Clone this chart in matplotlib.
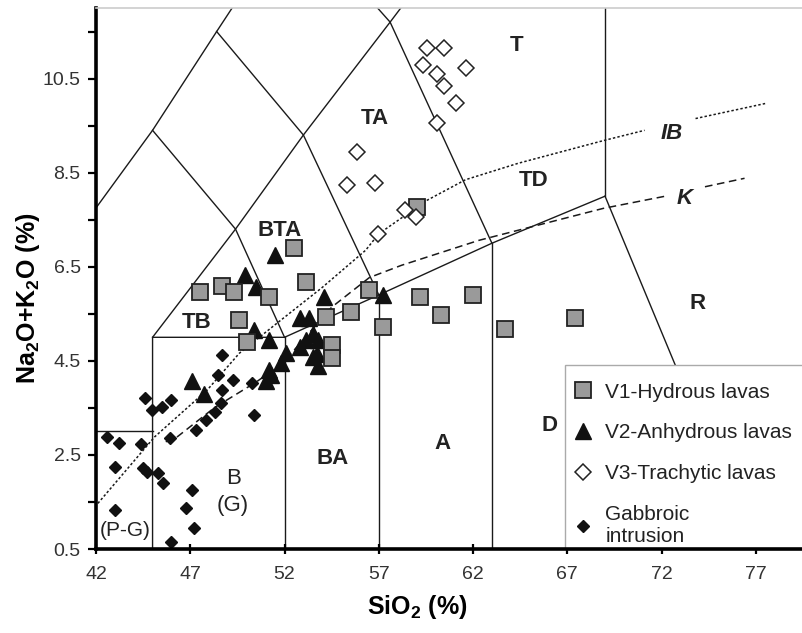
import matplotlib
matplotlib.use('Agg')
import matplotlib.pyplot as plt
from matplotlib.lines import Line2D
from matplotlib.patches import Rectangle

plt.rcParams['font.family'] = ['Liberation Sans', 'DejaVu Sans']
plt.rcParams['mathtext.default'] = 'regular'

# ---------------- data ----------------
v1_sio2 = [47.5, 48.7, 49.3, 51.2, 52.5, 53.15, 49.6, 50.0, 54.2, 55.5,
           56.5, 57.2, 54.5, 54.5, 59.0, 59.2, 60.3, 62.0, 63.7, 67.4]
v1_alk = [5.96, 6.08, 5.96, 5.85, 6.89, 6.17, 5.36, 4.9, 5.43, 5.53,
          6.0, 5.22, 4.83, 4.56, 7.78, 5.85, 5.47, 5.89, 5.17, 5.4]

v2_sio2 = [51.5, 49.9, 50.5, 54.1, 52.8, 53.3, 50.4, 51.2, 53.15, 53.5,
           53.8, 52.8, 53.5, 53.8, 52.1, 51.2, 47.1, 47.75, 51.0, 51.8,
           51.3, 57.2, 53.7]
v2_alk = [6.74, 6.32, 6.06, 5.85, 5.4, 5.4, 5.15, 4.94, 4.94, 5.08,
          4.94, 4.8, 4.58, 4.4, 4.66, 4.3, 4.07, 3.8, 4.07, 4.45,
          4.2, 5.9, 4.65]

v3_sio2 = [59.55, 60.45, 59.35, 60.1, 60.45, 61.6, 61.1, 60.1, 55.85, 55.3,
           56.8, 58.4, 58.95, 56.95]
v3_alk = [11.14, 11.16, 10.78, 10.6, 10.35, 10.73, 9.99, 9.55, 8.93, 8.23,
          8.29, 7.7, 7.55, 7.2]

gab_sio2 = [47.3, 47.85, 48.3, 48.65, 48.7, 49.25, 48.45, 48.7, 50.3, 50.4,
            44.6, 44.96, 45.5, 46.0, 45.9, 42.6, 43.2, 44.4, 43.0, 44.5,
            44.7, 45.3, 45.55, 47.1, 46.8, 47.2, 46.0, 43.0]
gab_alk = [3.03, 3.24, 3.41, 3.6, 3.88, 4.09, 4.19, 4.62, 4.02, 3.35,
           3.7, 3.45, 3.51, 3.66, 2.86, 2.88, 2.75, 2.73, 2.24, 2.22,
           2.13, 2.11, 1.9, 1.75, 1.37, 0.95, 0.65, 1.33]

# TAS field boundaries (SiO2, Na2O+K2O)
tas_lines = [
    [(41, 7.2), (45, 9.4), (48.4, 11.5), (52.5, 14)],
    [(41, 3), (45, 3)],
    [(45, 0), (45, 5), (49.4, 7.3), (53, 9.3), (57.6, 11.7), (61, 13.5)],
    [(45, 9.4), (49.4, 7.3), (52, 5)],
    [(48.4, 11.5), (53, 9.3), (57, 5.9)],
    [(52.5, 14), (57.6, 11.7), (63, 7)],
    [(45, 5), (52, 5), (57, 5.9), (63, 7), (69, 8)],
    [(52, 0), (52, 5)],
    [(57, 0), (57, 5.9)],
    [(63, 0), (63, 7)],
    [(69, 8), (69, 13)],
    [(69, 8), (77.3, 0)],
]

# Irvine & Baragar (IB) and Kuno (K) dividing lines
ib_x1 = [42.1, 45.1, 47.9, 49.6, 51.6, 54.0, 56.3, 57.0, 59.0, 59.5, 61.6, 64.4, 68.9, 71.1]
ib_y1 = [1.47, 2.88, 3.88, 4.66, 5.3, 6.06, 6.85, 7.2, 7.76, 7.9, 8.35, 8.7, 9.18, 9.4]
ib_x2 = [73.8, 77.5]
ib_y2 = [9.65, 9.97]
k_x1 = [45.7, 46.2, 48.3, 50.5, 51.9, 54.5, 56.5, 58.2, 62.3, 68.9, 72.2]
k_y1 = [2.78, 2.85, 3.51, 4.05, 4.45, 5.64, 6.27, 6.53, 7.06, 7.74, 8.0]
k_x2 = [74.3, 76.4]
k_y2 = [8.2, 8.38]

field_labels = ['T', 'TA', 'TD', 'BTA', 'TB', 'R', 'D', 'A', 'BA']
field_x = [64.33, 56.8, 65.2, 51.76, 47.36, 73.9, 66.07, 60.4, 54.57]
field_y = [11.2, 9.65, 8.33, 7.27, 5.32, 5.72, 3.13, 2.75, 2.43]

x_ticks = [42, 47, 52, 57, 62, 67, 72, 77]
y_ticks = [0.5, 2.5, 4.5, 6.5, 8.5, 10.5]
y_minor = [1.5, 3.5, 5.5, 7.5, 9.5, 11.5]

legend_labels = ['V1-Hydrous lavas', 'V2-Anhydrous lavas', 'V3-Trachytic lavas',
                 'Gabbroic\nintrusion']

# ---------------- figure ----------------
fig = plt.figure(figsize=(8.03, 6.33), dpi=100)
ax = fig.add_axes([96 / 803, 1 - 549 / 633, 707 / 803, 541 / 633])
ax.set_xlim(42, 79.5)
ax.set_ylim(0.5, 12)

for seg in tas_lines:
    xs, ys = zip(*seg)
    ax.plot(xs, ys, color='#1a1a1a', lw=1.0, zorder=1)

dot = (0, (1.6, 1.4))
dash = (0, (5, 3))
ax.plot(ib_x1, ib_y1, color='#1a1a1a', lw=1.1, ls=dot, zorder=1)
ax.plot(ib_x2, ib_y2, color='#1a1a1a', lw=1.1, ls=dot, zorder=1)
ax.plot(k_x1, k_y1, color='#1a1a1a', lw=1.1, ls=dash, zorder=1)
ax.plot(k_x2, k_y2, color='#1a1a1a', lw=1.1, ls=dash, zorder=1)

ax.text(72.55, 9.33, 'IB', fontsize=16, fontweight='bold', style='italic',
        ha='center', va='center', color='#222222')
ax.text(73.2, 7.95, 'K', fontsize=16, fontweight='bold', style='italic',
        ha='center', va='center', color='#222222')

for lab, lx, ly in zip(field_labels, field_x, field_y):
    ax.text(lx, ly, lab, fontsize=16, fontweight='bold', ha='center', va='center',
            color='#222222')
ax.text(49.27, 2.0, 'B', fontsize=16, ha='center', va='center', color='#222222')
ax.text(49.27, 1.43, '(G)', fontsize=16, ha='center', va='center', color='#222222')
ax.text(43.54, 0.9, '(P-G)', fontsize=15, ha='center', va='center', color='#222222')

# data points
ax.plot(gab_sio2, gab_alk, ls='none', marker='D', ms=6, mfc='#111111', mec='#111111',
        zorder=3)
ax.plot(v2_sio2, v2_alk, ls='none', marker='^', ms=11, mfc='#111111', mec='#111111',
        zorder=4)
ax.plot(v1_sio2, v1_alk, ls='none', marker='s', ms=12, mfc='#9a9a9a', mec='#222222',
        mew=1.3, zorder=5)
ax.plot(v3_sio2, v3_alk, ls='none', marker='D', ms=8, mfc='white', mec='#222222',
        mew=1.1, zorder=6)

# axes styling
ax.spines['right'].set_visible(False)
ax.spines['top'].set_color('#cccccc')
ax.spines['top'].set_linewidth(1.2)
ax.spines['left'].set_linewidth(2.6)
ax.spines['bottom'].set_linewidth(2.6)
ax.spines['bottom'].set_zorder(12)
ax.set_xticks(x_ticks)
ax.set_xticklabels([str(v) for v in x_ticks])
ax.set_yticks(y_ticks)
ax.set_yticklabels([f'{v:.1f}' for v in y_ticks])
ax.set_yticks(y_minor, minor=True)
ax.tick_params(axis='y', which='both', direction='out', length=6, width=1.6,
               labelsize=14, labelcolor='#333333', pad=5)
ax.tick_params(axis='x', which='both', direction='inout', length=7, width=1.6,
               labelsize=14, labelcolor='#333333', pad=9)

fig.text(417 / 803, 1 - 607 / 633, 'SiO$_2$ (%)', fontsize=18, fontweight='bold',
         ha='center', va='center')
fig.text(28 / 803, 1 - 298 / 633, 'Na$_2$O+K$_2$O (%)', fontsize=18, fontweight='bold',
         ha='center', va='center', rotation=90)

# legend frame (extends to the axis bottom and past the right edge)
frame = Rectangle((0.663, 0.0), 0.36, 0.34, transform=ax.transAxes, facecolor='white',
                  edgecolor='#aaaaaa', lw=1.0, zorder=9, clip_on=False)
ax.add_patch(frame)

handles = [
    Line2D([], [], ls='none', marker='s', ms=12, mfc='#9a9a9a', mec='#222222', mew=1.3),
    Line2D([], [], ls='none', marker='^', ms=11, mfc='#111111', mec='#111111'),
    Line2D([], [], ls='none', marker='D', ms=8, mfc='white', mec='#222222', mew=1.1),
    Line2D([], [], ls='none', marker='D', ms=6, mfc='#111111', mec='#111111'),
]
leg = ax.legend(handles, legend_labels, loc='upper left', bbox_to_anchor=(0.663, 0.325),
                frameon=False, fontsize=15, handlelength=0.9, handletextpad=0.6,
                labelspacing=1.05, borderpad=0.45, borderaxespad=0)
leg.set_zorder(10)
for t in leg.get_texts():
    t.set_color('#222222')

fig.savefig('out.png', dpi=100, facecolor='white')
